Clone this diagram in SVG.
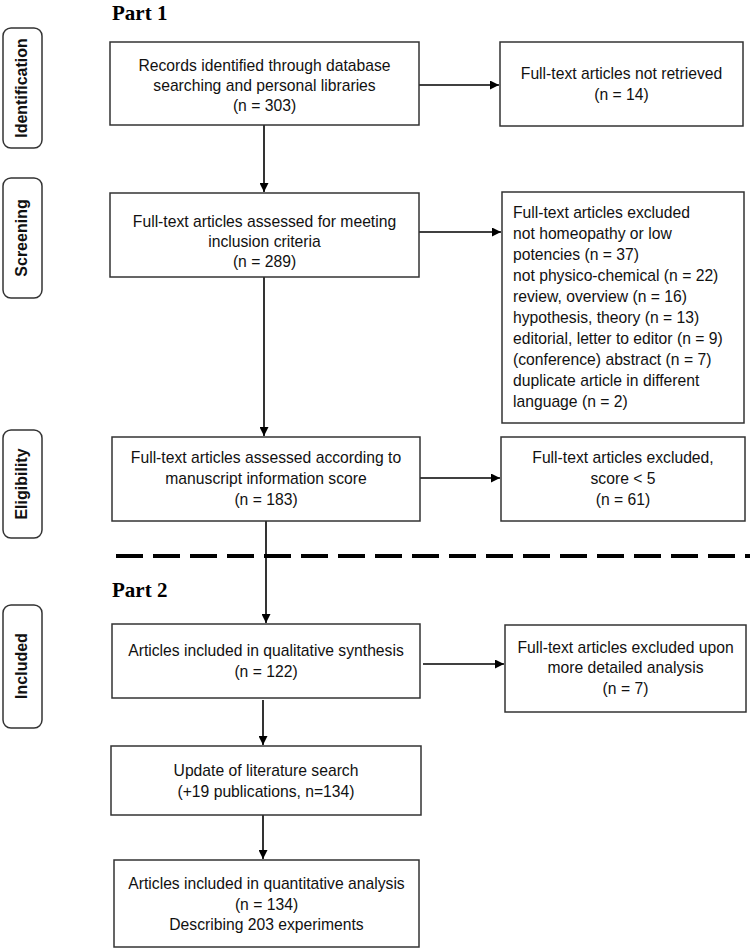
<svg xmlns="http://www.w3.org/2000/svg" width="750" height="949" viewBox="0 0 750 949">
<style>
.box{fill:#fff;stroke:#333;stroke-width:1.5}
.pill{fill:#fff;stroke:#333;stroke-width:1.5}
.t{font-family:"Liberation Sans",Arial,sans-serif;font-size:15.7px;fill:#111}
.c{text-anchor:middle}
.lbl{font-family:"Liberation Sans",Arial,sans-serif;font-size:16px;font-weight:bold;fill:#111;text-anchor:middle}
.part{font-family:"Liberation Serif","Times New Roman",serif;font-size:21px;font-weight:bold;fill:#000}
.con{stroke:#000;stroke-width:1.6;fill:none}
</style>
<defs>
<marker id="ah" viewBox="0 0 10 10" refX="10" refY="5" markerWidth="9" markerHeight="9" markerUnits="userSpaceOnUse" orient="auto">
<path d="M0,0 L10,5 L0,10 z" fill="#000"/>
</marker>
</defs>
<rect width="750" height="949" fill="#fff"/>
<text class="part" x="112" y="20">Part 1</text>
<text class="part" x="112" y="597">Part 2</text>
<g id="stages">
<g id="stage-identification"><rect class="pill" x="3" y="28" width="39" height="120" rx="8"/><text class="lbl" transform="translate(27,88) rotate(-90)">Identification</text></g>
<g id="stage-screening"><rect class="pill" x="3" y="178" width="39" height="120" rx="8"/><text class="lbl" transform="translate(27,238) rotate(-90)">Screening</text></g>
<g id="stage-eligibility"><rect class="pill" x="3" y="430" width="39" height="108" rx="8"/><text class="lbl" transform="translate(27,484) rotate(-90)">Eligibility</text></g>
<g id="stage-included"><rect class="pill" x="3" y="605" width="39" height="123" rx="8"/><text class="lbl" transform="translate(27,666) rotate(-90)">Included</text></g>
</g>
<line x1="116" y1="556" x2="750" y2="556" stroke="#000" stroke-width="4" stroke-dasharray="27 10"/>
<g id="connectors">
<line class="con" x1="264" y1="125" x2="264" y2="192" marker-end="url(#ah)"/>
<line class="con" x1="419" y1="85" x2="499" y2="85" marker-end="url(#ah)"/>
<line class="con" x1="419" y1="232" x2="501" y2="232" marker-end="url(#ah)"/>
<line class="con" x1="264" y1="277" x2="264" y2="436" marker-end="url(#ah)"/>
<line class="con" x1="420" y1="478" x2="500" y2="478" marker-end="url(#ah)"/>
<line class="con" x1="266" y1="521" x2="266" y2="623" marker-end="url(#ah)"/>
<line class="con" x1="423" y1="664" x2="504" y2="664" marker-end="url(#ah)"/>
<line class="con" x1="263" y1="700" x2="263" y2="745" marker-end="url(#ah)"/>
<line class="con" x1="263" y1="815" x2="263" y2="859" marker-end="url(#ah)"/>
</g>
<g id="n-records"><rect class="box" x="110" y="42" width="309" height="83"/>
<text class="t c" x="264.5" y="71">Records identified through database</text>
<text class="t c" x="264.5" y="91">searching and personal libraries</text>
<text class="t c" x="264.5" y="111">(n = 303)</text></g>
<g id="n-notretrieved"><rect class="box" x="500" y="42" width="243" height="84"/>
<text class="t c" x="621.5" y="79">Full-text articles not retrieved</text>
<text class="t c" x="621.5" y="100">(n = 14)</text></g>
<g id="n-screening"><rect class="box" x="110" y="193" width="309" height="84"/>
<text class="t c" x="264.5" y="227">Full-text articles assessed for meeting</text>
<text class="t c" x="264.5" y="247">inclusion criteria</text>
<text class="t c" x="264.5" y="267">(n = 289)</text></g>
<g id="n-excluded"><rect class="box" x="502" y="192" width="242" height="231"/>
<text class="t" x="513" y="218">Full-text articles excluded</text>
<text class="t" x="513" y="239">not homeopathy or low</text>
<text class="t" x="513" y="260">potencies (n = 37)</text>
<text class="t" x="513" y="281">not physico-chemical (n = 22)</text>
<text class="t" x="513" y="302">review, overview (n = 16)</text>
<text class="t" x="513" y="323">hypothesis, theory (n = 13)</text>
<text class="t" x="513" y="344">editorial, letter to editor (n = 9)</text>
<text class="t" x="513" y="365">(conference) abstract (n = 7)</text>
<text class="t" x="513" y="386">duplicate article in different</text>
<text class="t" x="513" y="407">language (n = 2)</text></g>
<g id="n-eligibility"><rect class="box" x="112" y="437" width="308" height="84"/>
<text class="t c" x="266" y="463">Full-text articles assessed according to</text>
<text class="t c" x="266" y="484">manuscript information score</text>
<text class="t c" x="266" y="505">(n = 183)</text></g>
<g id="n-score"><rect class="box" x="501" y="437" width="244" height="84"/>
<text class="t c" x="623" y="463">Full-text articles excluded,</text>
<text class="t c" x="623" y="484">score &lt; 5</text>
<text class="t c" x="623" y="505">(n = 61)</text></g>
<g id="n-qualitative"><rect class="box" x="112" y="624" width="308" height="74"/>
<text class="t c" x="266" y="656">Articles included in qualitative synthesis</text>
<text class="t c" x="266" y="677">(n = 122)</text></g>
<g id="n-detailed"><rect class="box" x="505" y="625" width="241" height="87"/>
<text class="t c" x="625.5" y="653">Full-text articles excluded upon</text>
<text class="t c" x="625.5" y="673">more detailed analysis</text>
<text class="t c" x="625.5" y="694">(n = 7)</text></g>
<g id="n-update"><rect class="box" x="111" y="746" width="310" height="69"/>
<text class="t c" x="266" y="776">Update of literature search</text>
<text class="t c" x="266" y="797">(+19 publications, n=134)</text></g>
<g id="n-quantitative"><rect class="box" x="114" y="860" width="305" height="87"/>
<text class="t c" x="266.5" y="889">Articles included in quantitative analysis</text>
<text class="t c" x="266.5" y="910">(n = 134)</text>
<text class="t c" x="266.5" y="930">Describing 203 experiments</text></g>
</svg>
